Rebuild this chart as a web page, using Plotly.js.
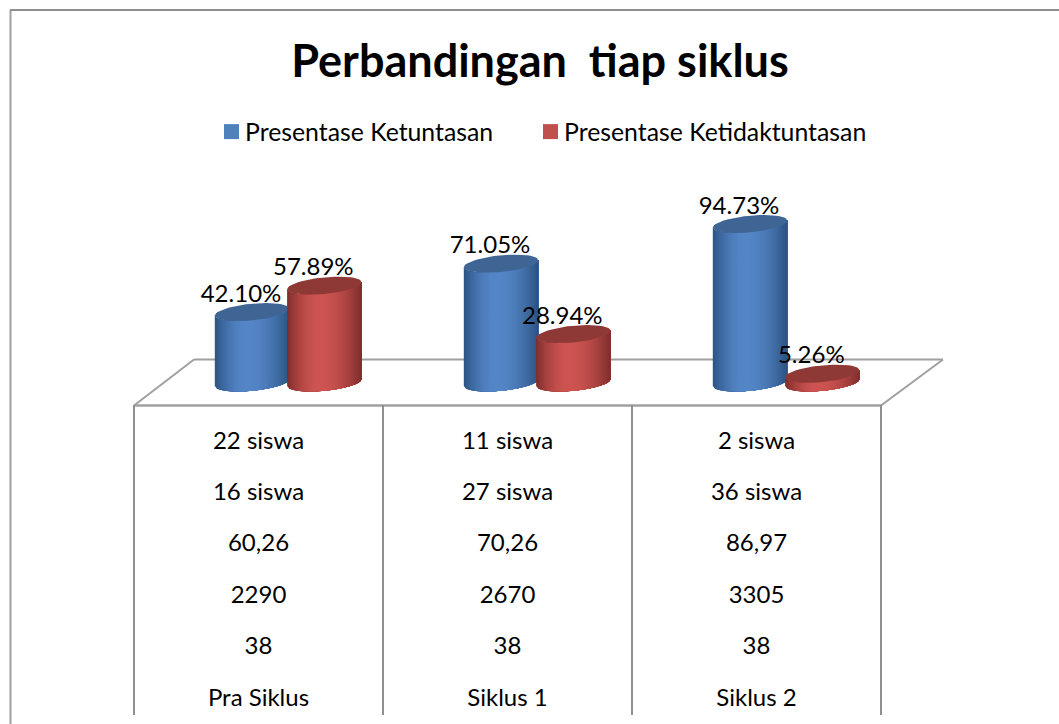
<!DOCTYPE html>
<html><head><meta charset="utf-8">
<script src="https://cdn.plot.ly/plotly-3.0.1.min.js"></script>
<style>html,body{margin:0;padding:0;background:#fff}#c{width:1059px;height:724px}</style>
</head><body><div id="c"></div>
<script>
const categories = ["Pra Siklus", "Siklus 1", "Siklus 2"];
const ketuntasan = [42.10, 71.05, 94.73];
const ketidaktuntasan = [57.89, 28.94, 5.26];
const ketuntasanLabels = ["42.10%", "71.05%", "94.73%"];
const ketidaktuntasanLabels = ["57.89%", "28.94%", "5.26%"];
const rowTuntas = ["22 siswa", "11 siswa", "2 siswa"];
const rowTidakTuntas = ["16 siswa", "27 siswa", "36 siswa"];
const rowRata = ["60,26", "70,26", "86,97"];
const rowJumlah = ["2290", "2670", "3305"];
const rowSiswa = ["38", "38", "38"];

const W = 1059, H = 724;
const catPx = 249, cat0Px = 258.5;   // pixels per category, pixel of the first category
const unitPx = 1.673, zeroPx = 382.5; // pixels per percent, pixel of zero
const X = p => (p - cat0Px) / catPx;
const Y = p => (zeroPx - p) / unitPx;
const DX = p => p / catPx, DY = p => p / unitPx;

const halfW = DX(37.2), halfH = DY(8.3), tilt = DY(3.5);
const blue = {name: "Presentase Ketuntasan", legend: "legend", vals: ketuntasan, labels: ketuntasanLabels, off: DX(-6.5),
  edge: [44, 82, 130], mid: [84, 134, 199], swatch: "#4f81bd", top: "#3e6594"};
const red = {name: "Presentase Ketidaktuntasan", legend: "legend2", vals: ketidaktuntasan, labels: ketidaktuntasanLabels, off: DX(65.8),
  edge: [125, 45, 43], mid: [205, 84, 81], swatch: "#c0504d", top: "#8f3937"};

const traces = [];
const FONT = "Lato, Carlito, Calibri, sans-serif";

function shade(s, u) {
  // light band sits a little left of centre, darkening toward both sides
  const c = -0.12, d = u < c ? (c - u) / (1 + c) : (u - c) / (1 - c);
  const k = Math.pow(d, 1.9);
  const v = s.mid.map((m, i) => Math.round(m + (s.edge[i] - m) * k));
  return `rgb(${v.join(",")})`;
}
function ellipse(cx, cy) {
  const xs = [], ys = [];
  for (let t = 0; t <= 48; t++) {
    const a = t / 48 * 2 * Math.PI, u = Math.cos(a);
    xs.push(cx + halfW * u);
    ys.push(cy + tilt * u + halfH * Math.sin(a));
  }
  return [xs, ys];
}
function front(v, u) { return v + tilt * u - halfH * Math.sqrt(Math.max(0, 1 - u * u)); }

function addSeries(s) {
  // series trace: legend entry and value markers hidden under each cylinder cap
  traces.push({type: "scatter", mode: "markers", name: s.name, legend: s.legend,
    x: s.vals.map((v, i) => i + s.off), y: s.vals,
    marker: {symbol: "square", size: 15, color: s.swatch}, hoverinfo: "name+y"});
  // painter's gradient: every band runs from its left edge to the right side of the cylinder
  const N = 40;
  for (let k = 0; k < N; k++) {
    const u0 = -1 + 2 * k / N, col = shade(s, u0 + 1 / N);
    const xs = [], ys = [];
    s.vals.forEach((v, i) => {
      const c = i + s.off, us = [];
      for (let m = 0; m <= 32; m++) us.push(u0 + (1 - u0) * m / 32);
      us.forEach(u => { xs.push(c + halfW * u); ys.push(front(0, u)); });
      us.slice().reverse().forEach(u => { xs.push(c + halfW * u); ys.push(front(v, u)); });
      xs.push(c + halfW * u0); ys.push(front(0, u0));
      xs.push(null); ys.push(null);
    });
    traces.push({type: "scatter", mode: "lines", x: xs, y: ys, fill: "toself", fillcolor: col,
      line: {color: col, width: 0}, showlegend: false, hoverinfo: "skip"});
  }
  const tx = [], ty = [];
  s.vals.forEach((v, i) => {
    const [a, b] = ellipse(i + s.off, v);
    tx.push(...a, null); ty.push(...b, null);
  });
  traces.push({type: "scatter", mode: "lines", x: tx, y: ty, fill: "toself", fillcolor: s.top,
    line: {color: s.top, width: 0}, showlegend: false, hoverinfo: "skip"});
}
addSeries(blue);
addSeries(red);

// value labels, on top of the cylinders
[blue, red].forEach(s => traces.push({type: "scatter", mode: "text",
  x: s.vals.map((v, i) => i + s.off + DX(-11)), y: s.vals.map(v => v + DY(16.5)),
  text: s.labels, textposition: "middle center", cliponaxis: false,
  textfont: {family: FONT, size: 24, color: "#000"}, showlegend: false, hoverinfo: "skip"}));

// table rows under the axis
const rows = [rowTuntas, rowTidakTuntas, rowRata, rowJumlah, rowSiswa, categories];
const rowPx = [443, 494, 545, 597, 648, 700];
rows.forEach((r, j) => traces.push({type: "scatter", mode: "text",
  x: categories.map((c, i) => i), y: categories.map(() => Y(rowPx[j])),
  text: r, textposition: "middle center", cliponaxis: false,
  textfont: {family: FONT, size: 24, color: "#000"}, showlegend: false, hoverinfo: "skip"}));

const GRAY = "#a0a0a0", GRAY2 = "#8f8f8f";
function seg(x0, y0, x1, y1, color, width) {
  return {type: "line", xref: "x", yref: "y", layer: "below",
    x0: X(x0), y0: Y(y0), x1: X(x1), y1: Y(y1), line: {color, width}};
}
const shapes = [
  seg(10.5, 10, 10.5, 724, GRAY, 2),
  seg(10, 10, 1059, 10, GRAY2, 2),
  seg(194, 359.5, 943, 359.5, GRAY, 2),
  seg(134, 405.5, 194, 359.5, GRAY, 2),
  seg(881, 405.5, 943, 359.5, GRAY, 2),
  seg(134, 405.5, 881, 405.5, GRAY, 2.5),
  seg(134, 405, 134, 715, GRAY2, 2),
  seg(383, 405, 383, 715, GRAY2, 2),
  seg(632, 405, 632, 715, GRAY2, 2),
  seg(881, 405, 881, 715, GRAY2, 2)
];

const legendBase = {orientation: "h", xanchor: "left", y: 1 - 132 / H, yanchor: "middle",
  font: {family: FONT, size: 24.8, color: "#000"}, bgcolor: "rgba(0,0,0,0)"};
const layout = {
  width: W, height: H,
  margin: {l: 0, r: 0, t: 0, b: 0},
  paper_bgcolor: "#fff", plot_bgcolor: "#fff",
  title: {text: "<b>Perbandingan  tiap siklus</b>", x: 540 / W, xanchor: "center", y: 1 - 61 / H, yanchor: "middle",
    font: {family: FONT, size: 45, color: "#000"}},
  xaxis: {range: [X(0), X(W)], visible: false, fixedrange: true},
  yaxis: {range: [Y(H), Y(0)], visible: false, fixedrange: true},
  showlegend: true,
  legend: Object.assign({}, legendBase, {x: 205 / W}),
  legend2: Object.assign({}, legendBase, {x: 524 / W}),
  shapes
};
Plotly.newPlot("c", traces, layout, {displayModeBar: false, responsive: false}).then(() => {
  // bring each legend swatch closer to its text, as in the original
  document.querySelectorAll("#c .legendsymbols").forEach(g => {
    const m = /translate\(([-\d.]+)[ ,]+([-\d.]+)\)/.exec(g.getAttribute("transform") || "");
    const tx = m ? parseFloat(m[1]) : 0, ty = m ? parseFloat(m[2]) : 0;
    g.setAttribute("transform", `translate(${tx + 6.5},${ty})`);
  });
});
</script></body></html>
